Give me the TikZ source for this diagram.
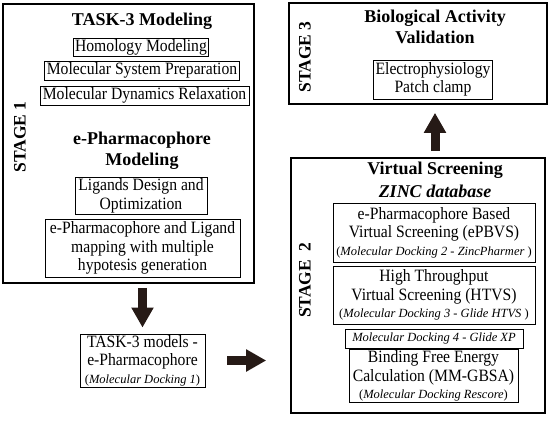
\documentclass[tikz,border=0pt]{standalone}
\usepackage{fontspec}
\setmainfont{Liberation Serif}
\newfontfamily\bodyfont[FakeStretch=0.905]{Liberation Serif}
\usepackage{xcolor}
\usetikzlibrary{arrows.meta, positioning, calc}

\definecolor{arrowbrown}{RGB}{38,26,22}
\newcommand{\docknote}[1]{{\rmfamily\fontsize{12.5}{15}\selectfont #1}}

\begin{document}
\begin{tikzpicture}[
    x=1pt, y=-1pt,
    stagebox/.style={rectangle, draw, line width=1.6pt, inner sep=0pt},
    item/.style={rectangle, draw, line width=0.9pt, inner xsep=2pt, inner ysep=1pt, align=center, font=\bodyfont\fontsize{17.3}{18.5}\selectfont},
    note/.style={font=\fontsize{12.5}{15}\selectfont\itshape},
    titletext/.style={align=center, font=\fontsize{18}{21}\selectfont\bfseries},
    stagelabel/.style={rotate=90, font=\fontsize{17.5}{20}\selectfont\bfseries},
    bigarrow/.style={draw=arrowbrown, line width=9pt, -{Triangle[width=21pt, length=20pt]}}
]
\useasboundingbox (0,0) rectangle (550,424);

% Stage 1: TASK-3 and e-Pharmacophore modeling
\node[stagebox, minimum width=251pt, minimum height=279pt] (s1) at (128.5,143.5) {};
\node[stagelabel] (s1lab) at (20,137) {STAGE 1};
\node[titletext] (t3title) at (142,21) {TASK-3 Modeling};
\node[item, minimum width=134pt, minimum height=18pt] (homol) at (141,47) {Homology Modeling};
\node[item, minimum width=194pt, minimum height=19pt] (molsys) at (142,70.5) {Molecular System Preparation};
\node[item, minimum width=209pt, minimum height=19pt] (moldyn) at (144.5,95.5) {Molecular Dynamics Relaxation};
\node[titletext] (ephtitle) at (142,151) {e-Pharmacophore\\Modeling};
\node[item, minimum width=132pt, minimum height=36pt] (ligdes) at (141,196) {Ligands Design and\\Optimization};
\node[item, minimum width=195pt, minimum height=58pt] (ephmap) at (142.5,248) {e-Pharmacophore and Ligand\\mapping with multiple\\hypotesis generation};

% Result of stage 1
\node[item, minimum width=125pt, minimum height=53pt] (tmodels) at (142.5,360.5) {TASK-3 models -\\e-Pharmacophore\\[-1pt]\docknote{(\textit{Molecular Docking 1})}};

% Stage 2: virtual screening
\node[stagebox, minimum width=254pt, minimum height=255pt] (s2) at (418,285.5) {};
\node[stagelabel] (s2lab) at (305,280) {STAGE\ \ 2};
\node[titletext, font=\fontsize{18}{23}\selectfont\bfseries] (vstitle) at (435,180) {Virtual Screening\\\textit{ZINC database}};
\node[item, minimum width=202pt, minimum height=59pt] (epbvs) at (434,232.5) {e-Pharmacophore Based\\Virtual Screening (ePBVS)\\[-1pt]\docknote{(\textit{Molecular Docking 2 - ZincPharmer} )}};
\node[item, minimum width=202pt, minimum height=58pt] (htvs) at (434,295) {High Throughput\\Virtual Screening (HTVS)\\[-1pt]\docknote{(\textit{Molecular Docking 3 - Glide HTVS} )}};
\node[item, note, minimum width=178pt, minimum height=19pt] (glide) at (434,338.5) {Molecular Docking 4 - Glide XP};
\node[item, minimum width=169pt, minimum height=50pt] (mmgbsa) at (433.5,376) {Binding Free Energy\\Calculation (MM-GBSA)\\[-1pt]\docknote{(\textit{Molecular Docking Rescore})}};

% Stage 3: biological validation
\node[stagebox, minimum width=258pt, minimum height=101pt] (s3) at (418,53.5) {};
\node[stagelabel] (s3lab) at (305,57) {STAGE 3};
\node[titletext] (biotitle) at (435,27) {Biological Activity\\Validation};
\node[item, minimum width=118pt, minimum height=39pt] (patch) at (433,79.5) {Electrophysiology\\Patch clamp};

% Connectors
\draw[bigarrow, shorten <=4pt, shorten >=6pt] (s1.south -| tmodels.north) -- (tmodels.north);
\draw[bigarrow, shorten <=22pt, shorten >=24pt] (tmodels.east) -- (tmodels.east -| s2.west);
\draw[bigarrow, shorten <=6pt, shorten >=8pt] (s2.north -| biotitle.south) -- (s3.south -| biotitle.south);

\end{tikzpicture}
\end{document}
